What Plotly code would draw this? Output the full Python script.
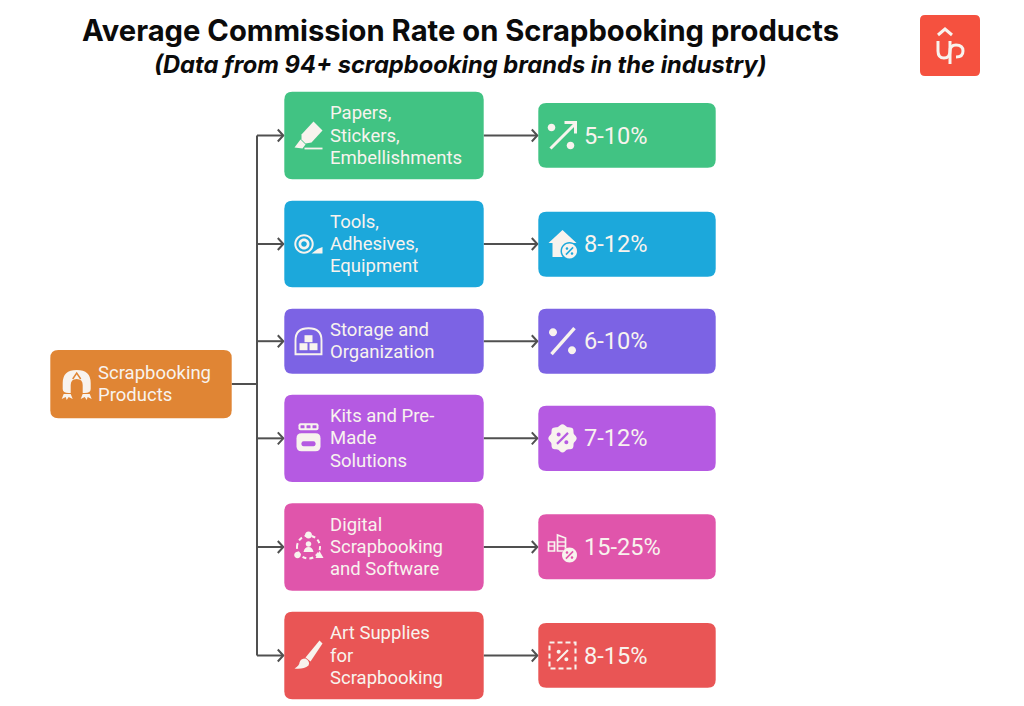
import math
import plotly.graph_objects as go

# ---------- content ----------
TITLE = "Average Commission Rate on Scrapbooking products"
SUBTITLE = "(Data from 94+ scrapbooking brands in the industry)"
ROOT_LABEL = ["Scrapbooking", "Products"]
CATEGORY_LINES = [
    ["Papers,", "Stickers,", "Embellishments"],
    ["Tools,", "Adhesives,", "Equipment"],
    ["Storage and", "Organization"],
    ["Kits and Pre-", "Made", "Solutions"],
    ["Digital", "Scrapbooking", "and Software"],
    ["Art Supplies", "for", "Scrapbooking"],
]
RATES = ["5-10%", "8-12%", "6-10%", "7-12%", "15-25%", "8-15%"]

# ---------- styles / layout ----------
COLORS = ["#41C383", "#1CA8DB", "#7C63E4", "#B55AE2", "#E055AB", "#E95555"]
ROOT_COLOR = "#E08534"
LOGO_COLOR = "#F5513F"
INK = "#F8F3EE"
LINE = "#505050"
CAT_Y = [(91.7, 179.3), (200.7, 287.3), (308.7, 373.7), (394.7, 482), (503.3, 590.7), (611.7, 699.3)]
VAL_Y = [(103, 167.7), (211.7, 276.7), (308.7, 373.7), (405.7, 471), (514.3, 579.3), (623, 687.7)]
CAT_X = (284.3, 483.7)
VAL_X = (538.3, 715.7)
ROOT_BOX = (50.3, 231.7, 350, 418.3)
TRUNK_X = 257
LINE_H = 22.4

shapes, annots = [], []

def rrect(x0, x1, y0, y1, r=8):
    return (f"M{x0+r},{y0} L{x1-r},{y0} Q{x1},{y0} {x1},{y0+r} L{x1},{y1-r} Q{x1},{y1} {x1-r},{y1} "
            f"L{x0+r},{y1} Q{x0},{y1} {x0},{y1-r} L{x0},{y0+r} Q{x0},{y0} {x0+r},{y0} Z")

def add_path(d, fill=None, stroke=None, w=0, dash=None):
    line = dict(width=w, color=stroke or "rgba(0,0,0,0)")
    if dash:
        line["dash"] = dash
    shapes.append(dict(type="path", path=d, xref="x", yref="y", layer="above",
                       fillcolor=fill or "rgba(0,0,0,0)", line=line))

def poly(pts, closed=True, ox=0, oy=0):
    s = "M" + " L".join(f"{ox+x:.2f},{oy+y:.2f}" for x, y in pts)
    return s + (" Z" if closed else "")

def circ(cx, cy, r, ox=0, oy=0):
    k = 0.5523 * r
    x, y = ox + cx, oy + cy
    return (f"M{x-r:.2f},{y:.2f} C{x-r:.2f},{y-k:.2f} {x-k:.2f},{y-r:.2f} {x:.2f},{y-r:.2f} "
            f"C{x+k:.2f},{y-r:.2f} {x+r:.2f},{y-k:.2f} {x+r:.2f},{y:.2f} "
            f"C{x+r:.2f},{y+k:.2f} {x+k:.2f},{y+r:.2f} {x:.2f},{y+r:.2f} "
            f"C{x-k:.2f},{y+r:.2f} {x-r:.2f},{y+k:.2f} {x-r:.2f},{y:.2f} Z")

def percent(cx, cy, s, col, ox, oy, w=1.6):
    add_path(poly([(cx-s, cy+s), (cx+s, cy-s)], False, ox, oy), stroke=col, w=w)
    add_path(circ(cx-s*0.7, cy-s*0.7, s*0.36, ox, oy), fill=col)
    add_path(circ(cx+s*0.7, cy+s*0.7, s*0.36, ox, oy), fill=col)

W = INK

def ic_marker(o, p, bg):
    add_path(poly([(5,-14),(14,-5),(3,7),(-3,8),(-7,4),(-7,-1)], True, o, p), fill=W)
    add_path(poly([(-8,4),(-14,12),(-6,13),(-3,9)], True, o, p), fill=W)
    add_path(poly([(-4,13),(14,13)], False, o, p), stroke=W, w=1.8)

def ic_tape(o, p, bg):
    add_path(circ(-4.5,0,9.7,o,p), fill=W); add_path(circ(-4.5,0,7.7,o,p), fill=bg)
    add_path(circ(-4.5,0,5.5,o,p), fill=W); add_path(circ(-4.5,0,2.8,o,p), fill=bg)
    add_path(poly([(3,9.5),(14,9.5),(14,3),(9,5)], True, o, p), fill=W)

def ic_store(o, p, bg):
    add_path(f"M{o-13},{p+13} L{o-13},{p-1} Q{o-13},{p-13} {o},{p-13} Q{o+13},{p-13} {o+13},{p-1} L{o+13},{p+13} Z",
             stroke=W, w=1.9)
    for x0, y0, x1, y1 in [(-4,-6,4,1),(-9,2,-1,9),(1,2,9,9)]:
        add_path(poly([(x0,y0),(x1,y0),(x1,y1),(x0,y1)], True, o, p), fill=W)

def ic_jar(o, p, bg):
    add_path(rrect(o-10, o+10, p-15, p-8, 2), fill=W)
    for dx in (-6, 0, 6):
        add_path(rrect(o+dx-2, o+dx+2, p-13, p-10, 0.5), fill=bg)
    add_path(rrect(o-12, o+12, p-5, p+13, 5), fill=W)
    add_path(rrect(o-7, o+7, p+3, p+8, 2), fill=bg)

def ic_digital(o, p, bg):
    add_path(circ(0,0,11.5,o,p), stroke=W, w=2, dash="4px,3px")
    add_path(circ(0,-12,3.5,o,p), fill=W)
    add_path(circ(-11,8,3.3,o,p), fill=W)
    add_path(poly([(11,4),(15,11),(7,11)], True, o, p), fill=W)
    add_path(circ(0,-3,2.8,o,p), fill=W)
    add_path(f"M{o-5},{p+5} Q{o-4},{p} {o},{p} Q{o+4},{p} {o+5},{p+5} Z", fill=W)

def ic_brush(o, p, bg):
    add_path(poly([(11,-15),(14,-12),(2,6),(-3,2)], True, o, p), fill=W)
    add_path(f"M{o-3},{p+3} Q{o+2},{p+6} {o},{p+10} Q{o-5},{p+14} {o-14},{p+13} Q{o-9},{p+10} {o-9},{p+7} Q{o-8},{p+3} {o-3},{p+3} Z", fill=W)

def ic_root(o, p, bg):
    add_path(f"M{o-14},{p+4} L{o-14},{p-2} Q{o-14},{p-15} {o},{p-15} Q{o+14},{p-15} {o+14},{p-2} L{o+14},{p+4} Q{o+14},{p+8} {o+8},{p+8} L{o+6},{p+8} L{o+6},{p} Q{o+6},{p-6} {o},{p-6} Q{o-6},{p-6} {o-6},{p} L{o-6},{p+8} L{o-8},{p+8} Q{o-14},{p+8} {o-14},{p+4} Z", fill=W)
    add_path(poly([(-4,-6),(0,-12),(4,-6)], False, o, p), stroke=bg, w=1.5)
    add_path(poly([(-13,9),(-6,9),(-4,14),(-8,12),(-10,15),(-11,12),(-15,14)], True, o, p), fill=W)
    add_path(poly([(6,9),(13,9),(15,14),(11,12),(10,15),(8,12),(4,14)], True, o, p), fill=W)

def ic_shuffle(o, p, bg):
    add_path(poly([(-12,13),(13,-12)], False, o, p), stroke=W, w=3)
    add_path(poly([(2,-13),(13,-13),(13,-2)], False, o, p), stroke=W, w=3)
    add_path(circ(-11,-8,3.8,o,p), fill=W); add_path(circ(8,10,3.8,o,p), fill=W)

def ic_house(o, p, bg):
    add_path(poly([(-14,-1),(0,-14),(14,-1),(10,-1),(10,13),(-10,13),(-10,-1)], True, o, p), fill=W)
    add_path(circ(7,7,9,o,p), fill=bg); add_path(circ(7,7,7.5,o,p), fill=W)
    percent(7, 7, 3.6, bg, o, p, 1.5)

def ic_percent(o, p, bg):
    add_path(poly([(-11,13),(12,-13)], False, o, p), stroke=W, w=3.4)
    add_path(circ(-9.5,-9,4,o,p), fill=W); add_path(circ(9.5,9,4,o,p), fill=W)

def ic_badge(o, p, bg):
    n = 72
    pts = []
    for i in range(n):
        a = 2 * math.pi * i / n
        r = 13.2 + 1.0 * math.cos(8 * a)
        pts.append((r * math.cos(a), r * math.sin(a)))
    add_path(poly(pts, True, o, p), fill=W)
    percent(0, 0, 5.5, bg, o, p, 2.2)

def ic_city(o, p, bg):
    add_path(poly([(-14,-5),(-8,-5),(-8,4),(-14,4)], True, o, p), stroke=W, w=1.7)
    add_path(poly([(-14,-1),(-8,-1)], False, o, p), stroke=W, w=1.4)
    add_path(poly([(-5,4),(-5,-12),(3,-9),(3,4)], True, o, p), stroke=W, w=1.7)
    add_path(poly([(-5,-5),(3,-5)], False, o, p), stroke=W, w=1.4)
    add_path(poly([(-5,-1),(3,-1)], False, o, p), stroke=W, w=1.4)
    add_path(circ(7,8,7.5,o,p), fill=bg)
    add_path(circ(7,8,7.5,o,p), fill=W)
    percent(7, 8, 3.6, bg, o, p, 1.5)

def ic_dashed(o, p, bg):
    add_path(poly([(-13,-13),(13,-13),(13,13),(-13,13)], True, o, p), stroke=W, w=2.1, dash="5px,3px")
    percent(0, 0, 5.5, W, o, p, 2)

CAT_ICONS = [ic_marker, ic_tape, ic_store, ic_jar, ic_digital, ic_brush]
VAL_ICONS = [ic_shuffle, ic_house, ic_percent, ic_badge, ic_city, ic_dashed]

def label(x, y, text, size, color=INK, family="Roboto", anchor="left"):
    annots.append(dict(x=x, y=y, text=text, xref="x", yref="y", showarrow=False,
                       xanchor=anchor, yanchor="middle", align=anchor, borderpad=0, borderwidth=0,
                       font=dict(family=family, size=size, color=color)))

def lines_block(x, cy, lines, size):
    start = cy - LINE_H * (len(lines) - 1) / 2
    for i, t in enumerate(lines):
        label(x, start + i * LINE_H, t, size)

def arrow(x0, x1, y):
    add_path(poly([(x0, y), (x1, y)], False), stroke=LINE, w=2)
    add_path(poly([(x1-5.5, y-6), (x1, y), (x1-5.5, y+6)], False), stroke=LINE, w=2)

# connectors
rows_mid = [(a + b) / 2 for a, b in CAT_Y]
root_mid = 384
add_path(poly([(ROOT_BOX[1], root_mid), (TRUNK_X, root_mid)], False), stroke=LINE, w=2)
add_path(poly([(TRUNK_X, rows_mid[0]), (TRUNK_X, rows_mid[-1])], False), stroke=LINE, w=2)

# root node
add_path(rrect(ROOT_BOX[0], ROOT_BOX[1], ROOT_BOX[2], ROOT_BOX[3]), fill=ROOT_COLOR)
ic_root(76.7, 385, ROOT_COLOR)
lines_block(98, 384, ROOT_LABEL, 18.5)

# rows
for i, lines in enumerate(CATEGORY_LINES):
    mid = rows_mid[i]
    arrow(TRUNK_X, CAT_X[0] - 1, mid)
    arrow(CAT_X[1], VAL_X[0] - 1, mid)
    add_path(rrect(CAT_X[0], CAT_X[1], *CAT_Y[i]), fill=COLORS[i])
    add_path(rrect(VAL_X[0], VAL_X[1], *VAL_Y[i]), fill=COLORS[i])
    CAT_ICONS[i](308.5, mid, COLORS[i])
    VAL_ICONS[i](562.5, mid, COLORS[i])
    lines_block(330, mid, lines, 18.5)
    label(584, mid, RATES[i], 23.6)

# title
label(460, 30, f"<b>{TITLE}</b>", 29.2, "#0B0B0B", "Inter", "center")
label(460, 64, f"<b><i>{SUBTITLE}</i></b>", 23.7, "#0B0B0B", "Inter", "center")

# logo
add_path(rrect(920, 980, 15, 76, 5), fill=LOGO_COLOR)
add_path(poly([(938,35),(945,29),(952,35)], False), stroke=W, w=3)
add_path("M938,41 L938,51 Q938,58 944,58 Q950,58 950,51 L950,41", stroke=W, w=3)
add_path("M950,64 L950,51 Q950,45 956,45 Q963,45 963,51 Q963,57 956,57", stroke=W, w=3)

fig = go.Figure()
fig.update_layout(
    width=1024, height=706, margin=dict(l=0, r=0, t=0, b=0),
    paper_bgcolor="#FFFFFF", plot_bgcolor="#FFFFFF", showlegend=False,
    xaxis=dict(range=[0, 1024], visible=False, fixedrange=True),
    yaxis=dict(range=[706, 0], visible=False, fixedrange=True),
    shapes=shapes, annotations=annots,
)
fig.write_html("out.html", config=dict(displayModeBar=False),
               post_script="document.body.style.margin='0';")
